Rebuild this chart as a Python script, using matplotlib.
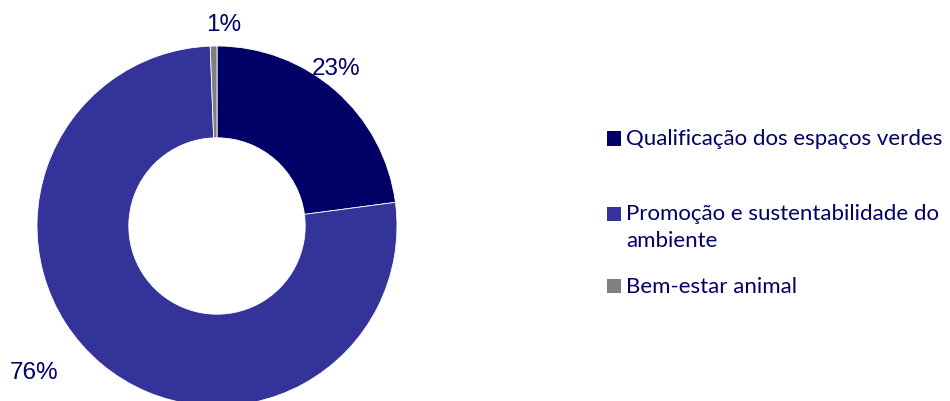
import numpy as np
import matplotlib.pyplot as plt
from matplotlib.patches import Rectangle

categories = ["Qualificação dos espaços verdes",
              "Promoção e sustentabilidade do\nambiente",
              "Bem-estar animal"]
values = [22.9, 76.5, 0.6]
pct_labels = ["23%", "76%", "1%"]
colors = ["#000066", "#333399", "#808080"]
TXT = "#000066"

W, H = 950, 401
fig = plt.figure(figsize=(W / 100, H / 100), dpi=100)

# pie centre at (217, 226) px, outer radius 180 px
R = 180.0
cx, cy = 217, 226
ax = fig.add_axes([0, 0, 500 / W, 1])

wedges, _ = ax.pie(values, colors=colors, startangle=90, counterclock=False,
                   radius=1.0, wedgeprops=dict(width=0.51, edgecolor="white", linewidth=0.6),
                   frame=True)
ax.set_xlim(-cx / R, (500 - cx) / R)
ax.set_ylim(-(H - cy) / R, cy / R)
ax.set_aspect("auto")
ax.axis("off")

# label baselines (data units, radius = 1)
label_xy = [(0.664, 0.839), (-1.019, -0.852), (0.036, 1.082)]
for (x, y), t in zip(label_xy, pct_labels):
    ax.text(x, y, t, ha="center", va="baseline", fontsize=17.5,
            family="Liberation Sans", color=TXT)

# legend drawn by hand, baselines in px
baselines = [145, 220, 292.7]
line_gap = 26.7
for c, lab, yb in zip(colors, categories, baselines):
    fig.patches.append(Rectangle((607 / W, 1 - (yb + 0.5) / H), 14 / W, 14 / H,
                                 transform=fig.transFigure, facecolor=c, edgecolor="none"))
    for i, line in enumerate(lab.split("\n")):
        fig.text(626 / W, 1 - (yb + i * line_gap) / H, line, ha="left", va="baseline",
                 fontsize=16, family="Lato", color=TXT)

fig.savefig("out.png", dpi=100)
